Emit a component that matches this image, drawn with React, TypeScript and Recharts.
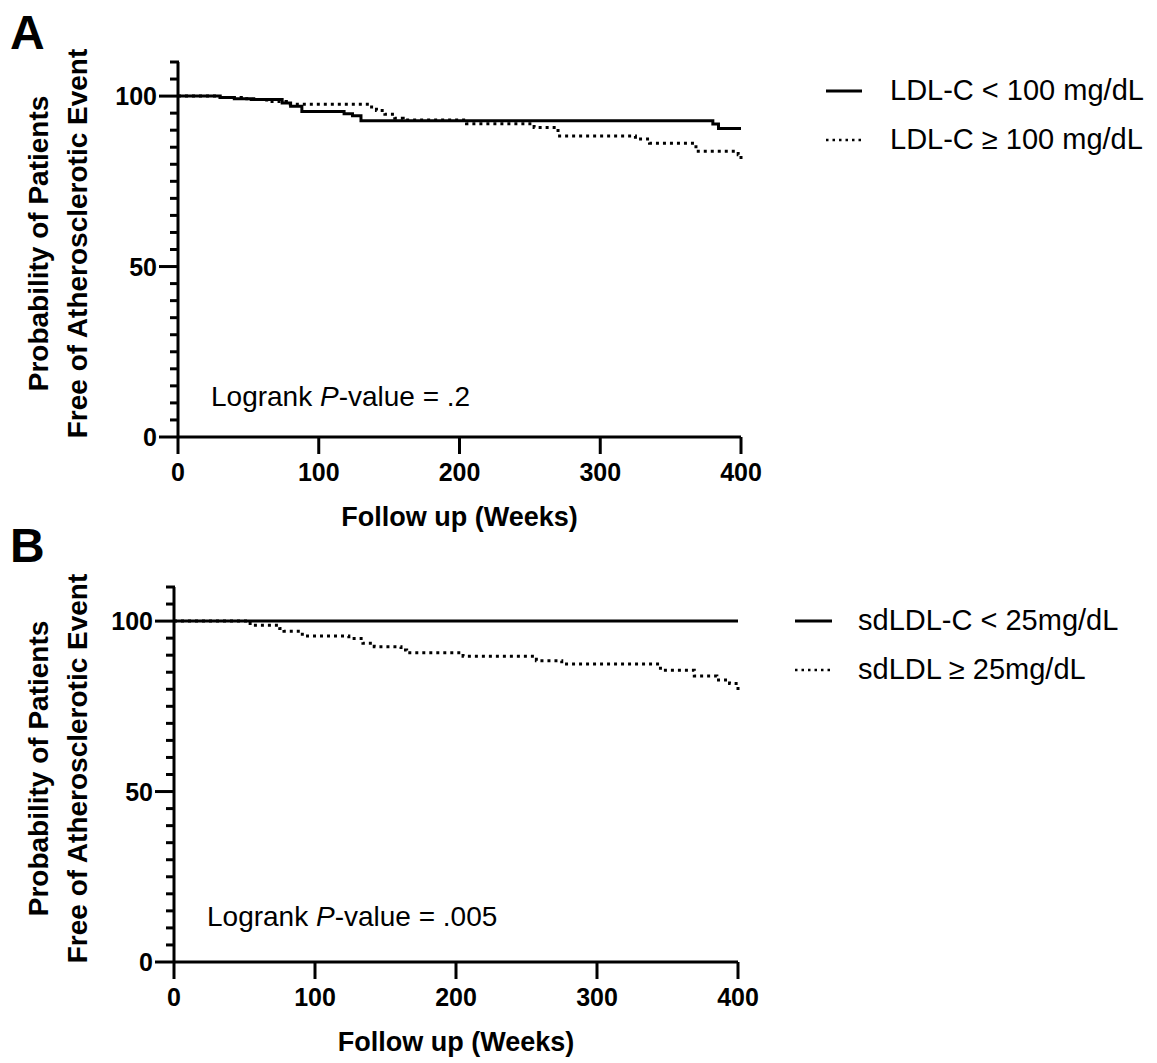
import React from 'react';
import { LineChart, Line, XAxis, YAxis, Legend, Label } from 'recharts';

const FONT = '"Liberation Sans", Arial, Helvetica, sans-serif';

// ---- Panel A: LDL-C ----
const weeksA_low = [0, 30, 40, 52, 74, 80, 88, 118, 124, 130, 380, 384, 400];
const survA_low = [100, 99.6, 99.2, 99.0, 98.0, 97.0, 95.5, 94.8, 94.2, 92.8, 91.8, 90.5, 90.5];

const weeksA_high = [0, 28, 45, 56, 63, 77, 136, 141, 147, 154, 160, 205, 253, 270, 325, 335, 368, 398, 400, 400];
const survA_high = [100, 99.6, 99.2, 99.0, 98.4, 97.6, 96.8, 95.8, 94.7, 93.5, 93.0, 91.9, 90.8, 88.3, 87.4, 86.2, 83.8, 82.8, 82.8, 80.6];

// ---- Panel B: sdLDL-C ----
const weeksB_low = [0, 400];
const survB_low = [100, 100];

const weeksB_high = [0, 50, 52, 54, 75, 78, 91, 124, 134, 142, 161, 165, 205, 257, 275, 345, 369, 385, 394, 400, 400];
const survB_high = [100, 100, 99.8, 98.8, 97.8, 97.0, 95.6, 94.9, 93.5, 92.5, 91.5, 90.7, 89.7, 88.4, 87.4, 85.6, 83.9, 82.7, 81.7, 81.7, 79.6];

const xTicks = [0, 100, 200, 300, 400];
const yTicks = [0, 5, 10, 15, 20, 25, 30, 35, 40, 45, 50, 55, 60, 65, 70, 75, 80, 85, 90, 95, 100, 105, 110];
const yMajor = [0, 50, 100];

const seriesNamesA = ['LDL-C < 100 mg/dL', 'LDL-C \u2265 100 mg/dL'];
const seriesNamesB = ['sdLDL-C < 25mg/dL', 'sdLDL \u2265 25mg/dL'];
const pValueA = '.2';
const pValueB = '.005';

const toRows = (w: number[], s: number[]) => w.map((week, i) => ({ week, surv: s[i] }));

const YTick = (props: any) => {
  const { x, y, payload } = props;
  const major = yMajor.includes(payload.value);
  const len = major ? 19 : 8;
  return (
    <g>
      <line x1={x - len} x2={x + 1} y1={y} y2={y} stroke="#000" strokeWidth={3} />
      {major && (
        <text x={x - len - 2} y={y} dy="0.36em" textAnchor="end" fill="#000"
          fontFamily={FONT} fontWeight="bold" fontSize={25}>
          {payload.value}
        </text>
      )}
    </g>
  );
};

const YLabel = (props: any) => {
  const vb = props.viewBox || { x: 0, y: 0, width: 0, height: 0 };
  const cy = vb.y + vb.height / 2 - 6;
  const common = { textAnchor: 'middle' as const, fill: '#000', fontFamily: FONT, fontWeight: 'bold', fontSize: 28 };
  return (
    <g>
      <text x={48} y={cy} transform={`rotate(-90 48 ${cy})`} {...common}>Probability of Patients</text>
      <text x={87} y={cy} transform={`rotate(-90 87 ${cy})`} {...common}>Free of Atherosclerotic Event</text>
    </g>
  );
};

const XLabel = (props: any) => {
  const vb = props.viewBox || { x: 0, y: 0, width: 0, height: 0 };
  return (
    <text x={vb.x + vb.width / 2} y={vb.y + 89} textAnchor="middle" fill="#000"
      fontFamily={FONT} fontWeight="bold" fontSize={27}>
      Follow up (Weeks)
    </text>
  );
};

const makeLegend = (names: string[], sampleW: number, gap: number) => () => (
  <div style={{ fontFamily: FONT, color: '#000' }}>
    {names.map((n, i) => (
      <div key={n} style={{ display: 'flex', alignItems: 'center', height: 49 }}>
        <svg width={sampleW} height={10} style={{ marginRight: gap, display: 'block' }}>
          <line x1={0} x2={sampleW} y1={5} y2={5} stroke="#000"
            strokeWidth={i === 0 ? 3 : 2.5} strokeDasharray={i === 0 ? undefined : '2.5 4'} />
        </svg>
        <span style={{ fontSize: 29, lineHeight: '29px', whiteSpace: 'nowrap' }}>{n}</span>
      </div>
    ))}
  </div>
);

type PanelProps = {
  top: number;
  yAxisW: number;
  rightM: number;
  low: { week: number; surv: number }[];
  high: { week: number; surv: number }[];
  names: string[];
  legendLeft: number;
  legendTop: number;
  sampleW: number;
  gap: number;
};

const Panel = ({ top, yAxisW, rightM, low, high, names, legendLeft, legendTop, sampleW, gap }: PanelProps) => (
  <div style={{ position: 'absolute', left: 0, top, width: 1157, height: 550 }}>
    <LineChart width={1157} height={550} margin={{ top: 62, right: rightM, left: 0, bottom: 20 }}>
      <XAxis type="number" dataKey="week" domain={[0, 400]} ticks={xTicks} interval={0}
        height={93} tickSize={17} tickMargin={9}
        axisLine={{ stroke: '#000', strokeWidth: 3 }}
        tickLine={{ stroke: '#000', strokeWidth: 3 }}
        tick={{ fill: '#000', fontSize: 25, fontWeight: 'bold', fontFamily: FONT }}>
        <Label content={<XLabel />} />
      </XAxis>
      <YAxis type="number" domain={[0, 110]} ticks={yTicks} interval={0} width={yAxisW}
        tickSize={0} tickMargin={0} tickLine={false}
        axisLine={{ stroke: '#000', strokeWidth: 3 }}
        tick={<YTick />}>
        <Label content={<YLabel />} />
      </YAxis>
      <Legend layout="horizontal" verticalAlign="middle" align="center"
        wrapperStyle={{ left: legendLeft, top: legendTop, width: 1157 - legendLeft }}
        content={makeLegend(names, sampleW, gap)} />
      <Line data={low} dataKey="surv" name={names[0]} type="stepAfter" stroke="#000" strokeWidth={3}
        dot={false} activeDot={false} isAnimationActive={false} />
      <Line data={high} dataKey="surv" name={names[1]} type="stepAfter" stroke="#000" strokeWidth={3}
        strokeDasharray="3 4" dot={false} activeDot={false} isAnimationActive={false} />
    </LineChart>
  </div>
);

const letterStyle: React.CSSProperties = {
  position: 'absolute', left: 10, fontFamily: FONT, fontWeight: 'bold', fontSize: 48, lineHeight: '48px', color: '#000',
};
const pStyle: React.CSSProperties = {
  position: 'absolute', fontFamily: FONT, fontSize: 28, lineHeight: '28px', color: '#000', whiteSpace: 'nowrap',
};

export default function App() {
  return (
    <div style={{ position: 'absolute', left: 0, top: 0, width: 1157, height: 1063, background: '#fff', overflow: 'hidden' }}>
      <Panel top={0} yAxisW={178} rightM={416} low={toRows(weeksA_low, survA_low)} high={toRows(weeksA_high, survA_high)}
        names={seriesNamesA} legendLeft={826} legendTop={66} sampleW={36} gap={28} />
      <Panel top={525} yAxisW={174} rightM={419} low={toRows(weeksB_low, survB_low)} high={toRows(weeksB_high, survB_high)}
        names={seriesNamesB} legendLeft={795} legendTop={71} sampleW={37} gap={26} />
      <div style={{ ...letterStyle, top: 9 }}>A</div>
      <div style={{ ...letterStyle, top: 522 }}>B</div>
      <div style={{ ...pStyle, left: 211, top: 383 }}>Logrank <i>P</i>-value = {pValueA}</div>
      <div style={{ ...pStyle, left: 207, top: 903 }}>Logrank <i>P</i>-value = {pValueB}</div>
    </div>
  );
}
